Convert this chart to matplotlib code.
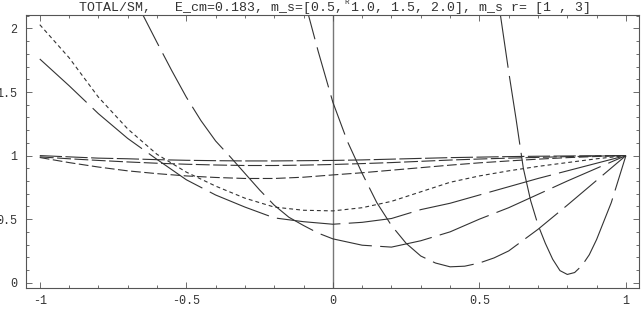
import matplotlib.pyplot as plt
from matplotlib.ticker import MultipleLocator

# values (TOTAL/SM ratio vs cos theta)
x_grid = [-1.0, -0.9, -0.8, -0.7, -0.6, -0.5, -0.4, -0.3, -0.2, -0.1, 0.0,
          0.1, 0.2, 0.3, 0.4, 0.5, 0.6, 0.7, 0.8, 0.9, 1.0]

flat1 = [1.0, 0.99, 0.98, 0.975, 0.968, 0.963, 0.96, 0.958, 0.958, 0.96, 0.962,
         0.966, 0.972, 0.978, 0.984, 0.988, 0.992, 0.995, 0.997, 0.999, 1.0]
flat2 = [0.99, 0.975, 0.962, 0.95, 0.94, 0.932, 0.926, 0.922, 0.922, 0.925, 0.93,
         0.937, 0.945, 0.955, 0.965, 0.973, 0.98, 0.986, 0.992, 0.996, 1.0]
flat3 = [0.985, 0.945, 0.91, 0.88, 0.858, 0.84, 0.828, 0.82, 0.82, 0.83, 0.848,
         0.865, 0.885, 0.905, 0.925, 0.943, 0.958, 0.972, 0.984, 0.993, 1.0]
short = [2.03, 1.77, 1.46, 1.21, 1.01, 0.87, 0.76, 0.665, 0.595, 0.57, 0.565,
         0.59, 0.64, 0.715, 0.79, 0.84, 0.88, 0.915, 0.945, 0.975, 1.0]
curve_a = [1.76, 1.55, 1.33, 1.135, 0.97, 0.81, 0.69, 0.595, 0.51, 0.48, 0.46,
           0.475, 0.505, 0.575, 0.625, 0.69, 0.755, 0.82, 0.88, 0.94, 1.0]

x_b = [-0.7, -0.65, -0.6, -0.55, -0.5, -0.45, -0.4, -0.35, -0.3, -0.25, -0.2,
       -0.15, -0.1, -0.05, 0.0, 0.1, 0.2, 0.3, 0.4, 0.5, 0.6, 0.7, 0.8, 0.9, 1.0]
curve_b = [2.34, 2.115, 1.89, 1.67, 1.46, 1.275, 1.115, 0.99, 0.86, 0.73, 0.61,
           0.515, 0.45, 0.39, 0.345, 0.295, 0.28, 0.33, 0.40, 0.50, 0.59, 0.695,
           0.80, 0.90, 1.0]

x_c = [-0.1, -0.05, 0.0, 0.05, 0.1, 0.15, 0.2, 0.25, 0.3, 0.35, 0.4, 0.45,
       0.5, 0.55, 0.6, 0.7, 0.8, 0.9, 1.0]
curve_c = [2.25, 1.82, 1.42, 1.11, 0.86, 0.63, 0.45, 0.31, 0.21, 0.155, 0.125,
           0.13, 0.155, 0.195, 0.25, 0.42, 0.61, 0.805, 1.0]

x_d = [0.55, 0.6, 0.625, 0.65, 0.675, 0.7, 0.725, 0.75, 0.775, 0.8, 0.825,
       0.85, 0.875, 0.9, 0.95, 1.0]
curve_d = [2.45, 1.66, 1.29, 0.9, 0.645, 0.455, 0.31, 0.185, 0.095, 0.065, 0.08,
           0.135, 0.22, 0.34, 0.63, 1.0]

x_ticks = [-1, -0.5, 0, 0.5, 1]
x_labels = ["-1", "-0.5", "0", "0.5", "1"]
y_ticks = [0, 0.5, 1, 1.5, 2]
y_labels = ["0", "0.5", "1", "1.5", "2"]

title = "TOTAL/SM,   E_cm=0.183, m_s=[0.5, 1.0, 1.5, 2.0], m_s r= [1 , 3]"

plt.rcParams["lines.scale_dashes"] = False
mono = "Liberation Mono"
ink = "#333333"

fig = plt.figure(figsize=(6.42, 3.09), dpi=100)
ax = fig.add_axes([0.0405, 0.067, 0.955, 0.884])

# (x, y, dash on/off in points)
series = [
    (x_grid, flat1, (16, 2.5)),
    (x_grid, flat2, (10, 2.5)),
    (x_grid, flat3, (7, 2.5)),
    (x_grid, short, (2.8, 2.2)),
    (x_grid, curve_a, (46, 6)),
    (x_b, curve_b, (38, 6)),
    (x_c, curve_c, (30, 6)),
    (x_d, curve_d, (50, 6)),
]
for xs, ys, dash in series:
    ax.plot(xs, ys, color=ink, lw=0.8, dashes=dash)

ax.axvline(0, color="#777777", lw=1.0, zorder=0)

ax.set_xlim(-1.047, 1.045)
ax.set_ylim(-0.044, 2.105)
ax.set_xticks(x_ticks)
ax.set_xticklabels(x_labels, fontfamily=mono, fontsize=8.5)
ax.set_yticks(y_ticks)
ax.set_yticklabels(y_labels, fontfamily=mono, fontsize=8.5)
ax.xaxis.set_minor_locator(MultipleLocator(0.1))
ax.yaxis.set_minor_locator(MultipleLocator(0.1))
ax.tick_params(which="both", direction="in", top=True, right=True,
               color="#555555", width=0.6, labelcolor="#333333")
ax.tick_params(which="major", length=4.5)
ax.tick_params(which="minor", length=2.5)
ax.tick_params(axis="x", which="major", pad=4.5)
ax.tick_params(axis="y", which="major", pad=6.5)
for s in ax.spines.values():
    s.set_color("#555555")
    s.set_linewidth(0.8)

fig.text(0.522, 0.974, title, ha="center", va="center",
         fontfamily=mono, fontsize=9.5, color="#333333")
fig.text(0.536, 0.993, "R", ha="left", va="center",
         fontfamily=mono, fontsize=5.5, color="#333333")

fig.savefig("out.png", dpi=100)
